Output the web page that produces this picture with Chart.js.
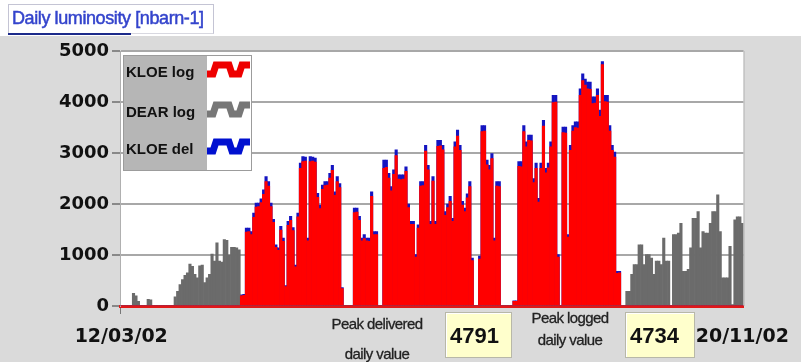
<!DOCTYPE html>
<html>
<head>
<meta charset="utf-8">
<title>Daily luminosity</title>
<script src="https://cdn.jsdelivr.net/npm/chart.js@4.4.1/dist/chart.umd.min.js"></script>
<style>
  body { margin: 0; background: #fff; }
  #wrap { position: relative; width: 801px; height: 362px; overflow: hidden; font-family: "Liberation Sans", Arial, sans-serif; }
  #lumi { position: absolute; left: 0; top: 0; }
  .tab { position: absolute; left: 8px; top: 4px; width: 204px; height: 28px; border: 1px solid #c4c4d4; border-bottom-color: #d8d8e0; background: #fff; }
  .tab span { position: absolute; left: 3px; top: 3px; font-size: 18px; color: #3444cc; -webkit-text-stroke: 0.5px #3444cc; letter-spacing: -0.4px; white-space: nowrap; }
  .tab i { position: absolute; left: -1px; bottom: -2px; width: 123px; height: 2px; background: #1c2a8a; }
  .note { position: absolute; font-size: 15px; color: #222; text-align: center; white-space: nowrap; letter-spacing: -0.6px; -webkit-text-stroke: 0.3px #222; }
  .peak { position: absolute; height: 46px; background: #ffffcc; border: 1px solid #b8b8a8; box-shadow: inset 1px 1px 0 #fff; font-weight: bold; font-size: 22px; line-height: 46px; padding-left: 4px; box-sizing: border-box; color: #111; }
</style>
</head>
<body>
<div id="wrap">
  <canvas id="lumi" width="801" height="362"></canvas>
  <div class="tab"><span>Daily luminosity [nbarn-1]</span><i></i></div>
  <div class="note" style="left:318px; top:315px; width:118px;">Peak delivered</div>
  <div class="note" style="left:318px; top:345px; width:118px;">daily value</div>
  <div class="peak" id="peakDel" style="left:445px; top:312px; width:67px;"></div>
  <div class="note" style="left:518px; top:309px; width:104px;">Peak logged</div>
  <div class="note" style="left:518px; top:331px; width:104px;">daily value</div>
  <div class="peak" id="peakLog" style="left:625px; top:312px; width:70px;"></div>
</div>
<script>
/* daily luminosity 12/03/02 - 20/11/02, one value per day */

var startDay = Date.UTC(2002, 2, 12);
var nDays = 254;
var endLabels = ['12/03/02', '20/11/02'];
var yTicks = [0, 1000, 2000, 3000, 4000, 5000];

var kloeLog = [
  0,0,0,0,0,0,0,0,0,0,
  0,0,0,0,0,0,0,0,0,0,
  0,0,0,0,0,0,0,0,0,0,
  0,0,0,0,0,0,0,0,0,0,
  0,0,0,0,0,0,0,0,0,200,
  210,1450,1460,1400,1740,1940,1950,2030,2190,2440,
  2350,1950,1640,1150,1090,1490,1270,380,1580,1680,
  1480,770,1750,2700,2830,2840,1280,2830,2840,2820,
  2130,1910,2290,2360,2370,2510,2660,2170,2440,2320,
  340,0,0,0,0,1830,1840,1680,1280,1320,
  1280,1270,2150,1400,1400,0,0,2700,2720,2510,
  2260,2580,2950,2490,2480,2490,2640,1930,1600,1600,
  960,1530,2350,2360,3040,2670,1600,2450,1600,3130,
  3140,3060,1780,1930,2050,1660,3120,3330,3050,1980,
  1850,2120,2340,890,0,0,920,3420,3430,2770,
  2670,2890,1280,2350,2340,0,0,0,0,0,
  90,90,2740,2730,3420,3120,3250,3240,2420,2700,
  2040,2700,3530,2610,2710,3120,3990,4000,960,0,
  3400,3390,1350,3050,3430,3500,3490,4130,4420,4330,
  4260,4250,3970,3980,4130,3720,4734,4010,4000,3430,
  3050,2920,640,650,0,0,0,0,0,0,
  0,0,0,0,0,0,0,0,0,0,
  0,0,0,0,0,0,0,0,0,0,
  0,0,0,0,0,0,0,0,0,0,
  0,0,0,0,0,0,0,0,0,0,
  0,0,0,0
];

var dearLog = [
  0,0,0,0,0,250,200,90,0,0,
  0,130,120,0,0,0,0,0,0,0,
  0,0,180,290,420,520,600,650,820,780,
  620,550,790,800,460,550,620,1020,880,1240,
  880,860,1300,1290,1000,1150,1150,1140,1100,0,
  0,0,0,0,0,0,0,0,0,0,
  0,0,0,0,0,0,0,0,0,0,
  0,0,0,0,0,0,0,0,0,0,
  0,0,0,0,0,0,0,0,0,0,
  0,0,0,0,0,0,0,0,0,0,
  0,0,0,0,0,0,0,0,0,0,
  0,0,0,0,0,0,0,0,0,0,
  0,0,0,0,0,0,0,0,0,0,
  0,0,0,0,0,0,0,0,0,0,
  0,0,0,0,0,0,0,0,0,0,
  0,0,0,0,0,0,0,0,0,0,
  0,0,0,0,0,0,0,0,0,0,
  0,0,0,0,0,0,0,0,0,0,
  0,0,0,0,0,0,0,0,0,0,
  0,0,0,0,0,0,0,0,0,0,
  0,0,0,0,0,0,290,290,620,810,
  810,1200,1200,810,1010,1010,940,620,880,880,
  810,1330,880,880,0,1400,1400,1430,1620,680,
  680,720,1140,1720,1720,1850,1140,1460,1430,1430,
  1620,1850,1850,2180,1460,550,550,550,1170,30,
  1690,1750,1750,1620
];

var kloeDel = [
  0,0,0,0,0,0,0,0,0,0,
  0,0,0,0,0,0,0,0,0,0,
  0,0,0,0,0,0,0,0,0,0,
  0,0,0,0,0,0,0,0,0,0,
  0,0,0,0,0,0,0,0,0,220,
  230,1530,1530,1460,1820,2020,2020,2100,2280,2540,
  2440,2020,1700,1200,1140,1560,1330,400,1660,1760,
  1540,800,1820,2800,2930,2920,1330,2930,2920,2900,
  2210,1980,2370,2440,2440,2600,2760,2240,2540,2400,
  360,0,0,0,0,1920,1920,1760,1330,1400,
  1330,1330,2240,1460,1460,0,0,2860,2860,2600,
  2340,2670,3060,2570,2570,2570,2730,2000,1660,1660,
  1010,1590,2440,2440,3150,2760,1660,2540,1660,3250,
  3250,3150,1850,2000,2150,1720,3220,3450,3150,2050,
  1920,2200,2440,940,0,0,980,3540,3540,2860,
  2760,2990,1330,2440,2440,0,0,0,0,0,
  100,100,2830,2830,3540,3220,3350,3350,2500,2800,
  2110,2800,3640,2700,2800,3220,4130,4130,1010,0,
  3510,3510,1400,3150,3540,3610,3610,4260,4550,4450,
  4390,4390,4100,4100,4260,3840,4791,4130,4130,3540,
  3150,3020,680,680,0,0,0,0,0,0,
  0,0,0,0,0,0,0,0,0,0,
  0,0,0,0,0,0,0,0,0,0,
  0,0,0,0,0,0,0,0,0,0,
  0,0,0,0,0,0,0,0,0,0,
  0,0,0,0
];

// dd/mm/yy for every day on the axis
var days = [];
for (var i = 0; i < nDays; i++) {
  var d = new Date(startDay + i * 86400000);
  var dd = ('0' + d.getUTCDate()).slice(-2);
  var mm = ('0' + (d.getUTCMonth() + 1)).slice(-2);
  days.push(dd + '/' + mm + '/' + String(d.getUTCFullYear()).slice(-2));
}

document.getElementById('peakDel').textContent = Math.max.apply(null, kloeDel);
document.getElementById('peakLog').textContent = Math.max.apply(null, kloeLog);

Chart.defaults.font.family = '"DejaVu Sans", sans-serif';
Chart.defaults.color = '#111';


// grey panel + white plotting area
var panelBg = {
  id: 'panelBg',
  beforeDraw: function (chart) {
    var c = chart.ctx, a = chart.chartArea;
    c.save();
    c.fillStyle = '#dadada';
    c.fillRect(0, 36, chart.width, chart.height - 36);
    c.fillStyle = '#fff';
    c.fillRect(a.left, a.top, a.right - a.left, a.bottom - a.top);
    c.restore();
  },
  afterDraw: function (chart) {
    var c = chart.ctx, a = chart.chartArea;
    c.save();
    c.strokeStyle = '#b4b4b4';
    c.lineWidth = 1;
    c.beginPath();
    c.moveTo(a.right + 0.5, a.top);
    c.lineTo(a.right + 0.5, a.bottom);
    c.stroke();
    c.restore();
  }
};

// legend box in the top left corner, square-wave swatches
var waveLegend = {
  id: 'waveLegend',
  afterDraw: function (chart) {
    var c = chart.ctx, a = chart.chartArea;
    var x0 = a.left + 3, y0 = a.top + 4;
    var sx = x0 + 84;
    c.save();
    c.fillStyle = '#b6b6b6';
    c.fillRect(x0, y0, 84, 115);
    c.fillStyle = '#fff';
    c.fillRect(sx, y0, 44, 115);
    c.strokeStyle = '#9c9c9c';
    c.lineWidth = 1;
    c.strokeRect(x0 + 0.5, y0 + 0.5, 128, 115);

    var rows = [
      { ds: 0, y: y0 + 18 },
      { ds: 1, y: y0 + 58 },
      { ds: 2, y: y0 + 95 }
    ];
    c.font = 'bold 15px "Liberation Sans", Arial, sans-serif';
    c.textBaseline = 'middle';
    rows.forEach(function (r) {
      var ds = chart.data.datasets[r.ds];
      c.fillStyle = '#111';
      c.fillText(ds.label, x0 + 3, r.y);
      var lo = r.y + 1, hi = r.y - 8;
      c.strokeStyle = ds.swatch;
      c.lineWidth = 7;
      c.lineJoin = 'miter';
      c.beginPath();
      c.moveTo(sx, lo);
      c.lineTo(sx + 6, lo);
      c.lineTo(sx + 9, hi);
      c.lineTo(sx + 22, hi);
      c.lineTo(sx + 25, lo);
      c.lineTo(sx + 32, lo);
      c.lineTo(sx + 35, hi);
      c.lineTo(sx + 43, hi);
      c.stroke();
    });
    c.restore();
  }
};

var ctx = document.getElementById('lumi');
var lumiChart = new Chart(ctx, {
  type: 'bar',
  data: {
    labels: days,
    datasets: [{
      label: 'KLOE log',
      data: kloeLog,
      backgroundColor: '#ff0000',
      swatch: '#ee0000',
      order: 1
    }, {
      label: 'DEAR log',
      data: dearLog,
      backgroundColor: '#6b6b6b',
      swatch: '#777777',
      order: 2
    }, {
      label: 'KLOE del',
      data: kloeDel,
      backgroundColor: '#1414c0',
      swatch: '#0010d0',
      order: 3
    }]
  },
  options: {
    responsive: false,
    animation: false,
    devicePixelRatio: 1,
    layout: { padding: { top: 51, right: 48, left: 0, bottom: 0 } },
    datasets: {
      bar: { grouped: false, barPercentage: 1, categoryPercentage: 1, borderWidth: 0 }
    },
    plugins: {
      legend: { display: false },
      tooltip: { enabled: false }
    },
    scales: {
      x: {
        afterFit: function (scale) { scale.height = 56; },
        border: { color: '#e01818', width: 3 },
        grid: {
          drawOnChartArea: false,
          tickLength: 8,
          color: function (c) { return (c.index === 0 || c.index === nDays) ? '#777' : 'rgba(0,0,0,0)'; }
        },
        ticks: {
          autoSkip: false,
          maxRotation: 0,
          padding: 12,
          font: { size: 19, weight: 'bold' },
          callback: function (v, i) {
            if (i === 0) return endLabels[0];
            if (i === nDays - 1) return endLabels[1];
            return '';
          }
        }
      },
      y: {
        min: 0,
        max: 5000,
        afterFit: function (scale) { scale.width = 120; },
        afterBuildTicks: function (scale) {
          scale.ticks = yTicks.map(function (v) { return { value: v }; });
        },
        border: { color: '#b0b0b0', width: 1 },
        grid: {
          lineWidth: 2,
          tickLength: 8,
          tickColor: '#888',
          color: function (c) { return c.tick && c.tick.value === 0 ? '#e01818' : '#a8a8a8'; }
        },
        ticks: {
          padding: 3,
          font: { size: 18, weight: 'bold' },
          callback: function (v) { return String(v); }
        }
      }
    }
  },
  plugins: [panelBg, waveLegend]
});
</script>
</body>
</html>
